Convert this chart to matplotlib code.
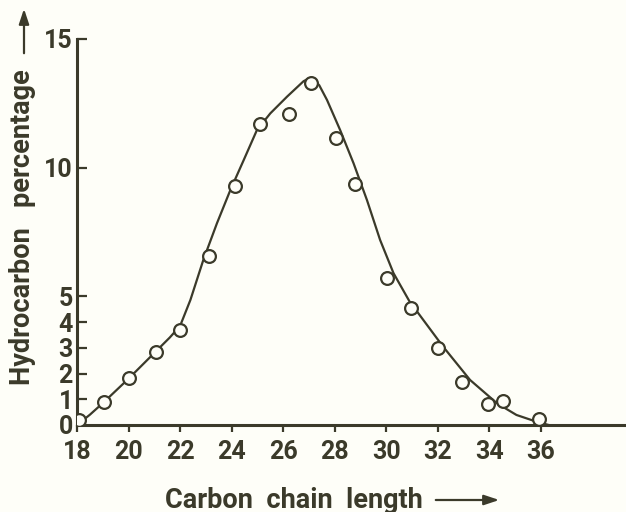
import matplotlib
matplotlib.use("Agg")
import matplotlib.pyplot as plt
from matplotlib.patches import FancyArrowPatch

# measured points (circles)
chain_len = [18.07, 19.04, 20.03, 21.08, 22.01, 23.11, 24.12, 25.09, 26.21, 27.08,
             28.05, 28.8, 30.04, 30.97, 32.02, 32.95, 33.96, 34.54, 35.93]
pct = [0.19, 0.88, 1.84, 2.85, 3.69, 6.58, 9.3, 11.69, 12.09, 13.28,
       11.14, 9.37, 5.72, 4.53, 3.0, 1.68, 0.82, 0.95, 0.22]

# hand-drawn fitted curve
curve_x = [18.0, 18.5, 19.0, 20.0, 21.0, 21.6, 22.0, 22.4, 22.9, 23.43, 23.95,
           24.47, 24.98, 25.5, 26.15, 26.79, 27.0, 27.2, 27.4, 27.7, 28.21,
           28.73, 29.25, 29.76, 30.28, 30.93, 31.2, 32.2, 33.25, 34.3, 35.05,
           35.85, 36.3]
curve_y = [0.0, 0.4, 0.85, 1.8, 2.8, 3.4, 3.85, 4.86, 6.41, 7.84, 9.13,
           10.3, 11.46, 12.11, 12.76, 13.36, 13.47, 13.42, 13.2, 12.63, 11.46,
           10.17, 8.74, 7.19, 5.9, 4.75, 4.4, 3.05, 1.75, 0.84, 0.39,
           0.12, 0.0]

x_ticks = [18, 20, 22, 24, 26, 28, 30, 32, 34, 36]
y_ticks = [0, 1, 2, 3, 4, 5, 10, 15]

ink = "#3b3a2a"
paper = "#fefef8"
plt.rcParams["font.family"] = ["Roboto", "DejaVu Sans"]
wt = "bold"
fs = 18

fig = plt.figure(figsize=(6.26, 5.12), dpi=100, facecolor=paper)
ax = fig.add_axes([77 / 626, 87 / 512, 1 - 77 / 626, (425 - 39) / 512])
ax.set_facecolor(paper)

ax.plot(curve_x, curve_y, color=ink, lw=1.6, solid_joinstyle="round", zorder=2)
ax.plot(chain_len, pct, "o", ms=9.2, mfc=paper, mec=ink, mew=1.6, zorder=3)

ax.set_xlim(18, 39.3)
ax.set_ylim(0, 15)
ax.set_xticks(x_ticks)
ax.set_yticks(y_ticks)
for s in ["top", "right"]:
    ax.spines[s].set_visible(False)
for s in ["left", "bottom"]:
    ax.spines[s].set_color(ink)
    ax.spines[s].set_linewidth(2.2)
ax.tick_params(axis="x", direction="out", length=5, width=1.6, colors=ink,
               labelsize=fs, pad=6)
ax.tick_params(axis="y", direction="in", length=7, width=1.6, colors=ink,
               labelsize=fs, pad=3)
for lab in ax.get_xticklabels() + ax.get_yticklabels():
    lab.set_color(ink)
    lab.set_fontweight(wt)

# axis titles with arrows
fig.text(165 / 626, 1 - 500 / 512, "Carbon  chain  length", fontsize=19.5,
         fontweight=wt, color=ink, ha="left", va="center")
fig.add_artist(FancyArrowPatch(
    (433 / 626, 1 - 500 / 512), (502 / 626, 1 - 500 / 512),
    transform=fig.transFigure, arrowstyle="-|>,head_length=9,head_width=3",
    color=ink, lw=1.6))

fig.text(23 / 626, 1 - 385 / 512, "Hydrocarbon   percentage", fontsize=19.5,
         fontweight=wt, color=ink, rotation=90, ha="center", va="bottom")
fig.add_artist(FancyArrowPatch(
    (24 / 626, 1 - 56 / 512), (24 / 626, 1 - 6 / 512),
    transform=fig.transFigure, arrowstyle="-|>,head_length=9,head_width=3",
    color=ink, lw=1.6))

fig.savefig("out.png", dpi=100, facecolor=paper)
